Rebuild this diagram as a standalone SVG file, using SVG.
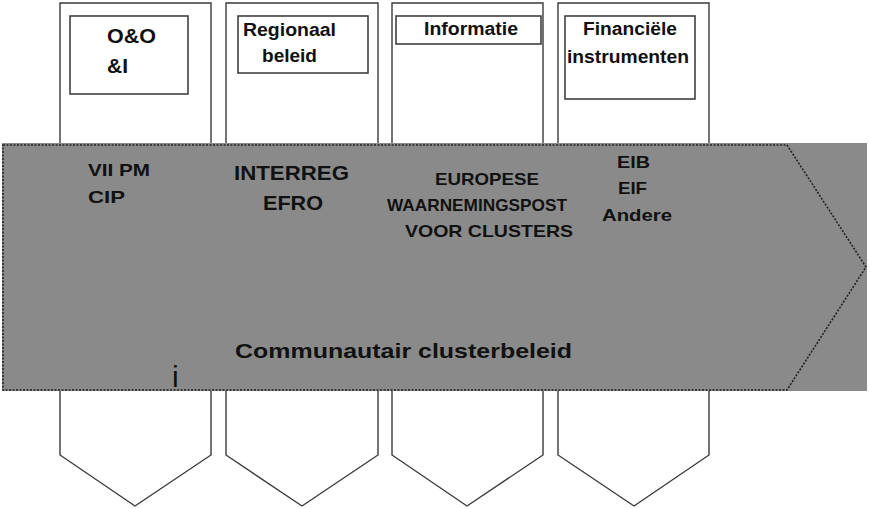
<svg xmlns="http://www.w3.org/2000/svg" width="870" height="509" viewBox="0 0 870 509">
<style>
.col{fill:#fff;stroke:#3a3a3a;stroke-width:1.4}
.box{fill:#fff;stroke:#404040;stroke-width:1.6}
.t{font-family:"Liberation Sans",Arial,sans-serif;font-weight:bold;fill:#111}
.band{fill:#8a8a8a}
.arrow{fill:#8a8a8a;stroke:#222;stroke-width:1.6;stroke-dasharray:2 1.5}
</style>
<rect width="870" height="509" fill="#fff"/>
<g id="col-oo">
<polygon class="col" points="60,3 211,3 211,455 135,506 60,455"/>
<rect class="box" x="70" y="16" width="118" height="78"/>
<text class="t" font-size="21" x="107" y="43" textLength="49" lengthAdjust="spacingAndGlyphs">O&amp;O</text>
<text class="t" font-size="21" x="107" y="73">&amp;I</text>
</g>
<g id="col-regionaal">
<polygon class="col" points="226,3 378,3 378,455 302,506 226,455"/>
<rect class="box" x="238" y="16" width="130" height="57"/>
<text class="t" font-size="18" x="243" y="36" textLength="93" lengthAdjust="spacingAndGlyphs">Regionaal</text>
<text class="t" font-size="18" x="262" y="62" textLength="55" lengthAdjust="spacingAndGlyphs">beleid</text>
</g>
<g id="col-informatie">
<polygon class="col" points="392,3 543,3 543,455 467,506 392,455"/>
<rect class="box" x="396" y="16" width="145" height="28"/>
<text class="t" font-size="18" x="424" y="35" textLength="94" lengthAdjust="spacingAndGlyphs">Informatie</text>
</g>
<g id="col-financieel">
<polygon class="col" points="558,3 709,3 709,455 634,506 558,455"/>
<rect class="box" x="565" y="16" width="130" height="83"/>
<text class="t" font-size="18" x="583" y="35" textLength="94" lengthAdjust="spacingAndGlyphs">Financiële</text>
<text class="t" font-size="18" x="567" y="63" textLength="122" lengthAdjust="spacingAndGlyphs">instrumenten</text>
</g>
<g id="band">
<rect class="band" x="2" y="143" width="865" height="248"/>
<polygon class="arrow" points="3,145 787,145 866,267 787,390 3,390"/>
<text class="t" font-size="17" x="88" y="176" textLength="62" lengthAdjust="spacingAndGlyphs">VII PM</text>
<text class="t" font-size="17" x="88" y="203" textLength="37" lengthAdjust="spacingAndGlyphs">CIP</text>
<text class="t" font-size="21" x="234" y="180" textLength="115" lengthAdjust="spacingAndGlyphs">INTERREG</text>
<text class="t" font-size="21" x="263" y="210" textLength="60" lengthAdjust="spacingAndGlyphs">EFRO</text>
<text class="t" font-size="17" x="435" y="185" textLength="104" lengthAdjust="spacingAndGlyphs">EUROPESE</text>
<text class="t" font-size="17" x="387" y="211" textLength="180" lengthAdjust="spacingAndGlyphs">WAARNEMINGSPOST</text>
<text class="t" font-size="17" x="405" y="237" textLength="168" lengthAdjust="spacingAndGlyphs">VOOR CLUSTERS</text>
<text class="t" font-size="17" x="617" y="168" textLength="33" lengthAdjust="spacingAndGlyphs">EIB</text>
<text class="t" font-size="17" x="618" y="194" textLength="29" lengthAdjust="spacingAndGlyphs">EIF</text>
<text class="t" font-size="17" x="602" y="221" textLength="70" lengthAdjust="spacingAndGlyphs">Andere</text>
<text class="t" font-size="21" x="235" y="358" textLength="337" lengthAdjust="spacingAndGlyphs">Communautair clusterbeleid</text>
<text font-family="Liberation Sans,Arial,sans-serif" font-size="30" fill="#111" x="172" y="387">i</text>
</g>
<g id="connectors"/>
</svg>
